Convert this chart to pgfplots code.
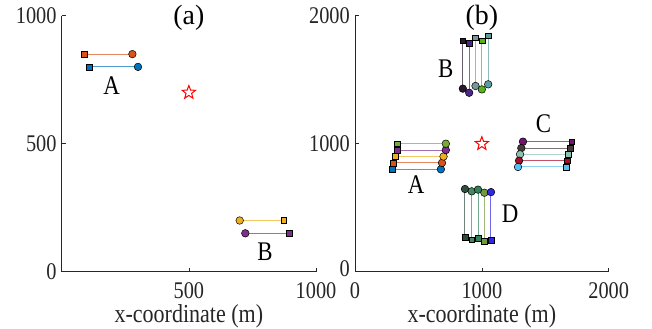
\documentclass[border=0pt]{standalone}
\usepackage{fontspec}
\setmainfont{Liberation Serif}[FakeStretch=0.85]
\newfontfamily\titlefont{Liberation Serif}
\usepackage{pgfplots}
\pgfplotsset{compat=1.18}

\definecolor{axgray}{rgb}{0.15,0.15,0.15}
\definecolor{mblue}{rgb}{0,0.447,0.741}
\definecolor{morange}{rgb}{0.85,0.325,0.098}
\definecolor{myellow}{rgb}{0.929,0.694,0.125}
\definecolor{mpurple}{rgb}{0.494,0.184,0.556}
\definecolor{mgreen}{rgb}{0.466,0.674,0.188}
\definecolor{b1}{rgb}{0.17,0.1,0.17}
\definecolor{b2}{rgb}{0.3,0.15,0.55}
\definecolor{b3}{rgb}{0.45,0.6,0.6}
\definecolor{b4}{rgb}{0.35,0.7,0.1}
\definecolor{b5}{rgb}{0.35,0.62,0.62}
\definecolor{c1}{rgb}{0.45,0.08,0.45}
\definecolor{c2}{rgb}{0.27,0.23,0.23}
\definecolor{c3}{rgb}{0.55,0.76,0.7}
\definecolor{c4}{rgb}{0.65,0.05,0.15}
\definecolor{c5}{rgb}{0.35,0.75,0.95}
\definecolor{d1}{rgb}{0.2,0.3,0.25}
\definecolor{d2}{rgb}{0.25,0.55,0.38}
\definecolor{d3}{rgb}{0.2,0.5,0.35}
\definecolor{d4}{rgb}{0.45,0.6,0.25}
\definecolor{d5}{rgb}{0.2,0.15,0.9}

\pgfdeclareplotmark{fivestar}{%
 \pgfpathmoveto{\pgfpointpolar{90}{\pgfplotmarksize}}%
 \pgfpathlineto{\pgfpointpolar{126}{0.42\pgfplotmarksize}}%
 \pgfpathlineto{\pgfpointpolar{162}{\pgfplotmarksize}}%
 \pgfpathlineto{\pgfpointpolar{198}{0.42\pgfplotmarksize}}%
 \pgfpathlineto{\pgfpointpolar{234}{\pgfplotmarksize}}%
 \pgfpathlineto{\pgfpointpolar{270}{0.42\pgfplotmarksize}}%
 \pgfpathlineto{\pgfpointpolar{306}{\pgfplotmarksize}}%
 \pgfpathlineto{\pgfpointpolar{342}{0.42\pgfplotmarksize}}%
 \pgfpathlineto{\pgfpointpolar{18}{\pgfplotmarksize}}%
 \pgfpathlineto{\pgfpointpolar{54}{0.42\pgfplotmarksize}}%
 \pgfpathclose\pgfusepathqfillstroke}

% color, square x, square y, circle x, circle y
\newcommand{\seg}[5]{%
 \addplot[#1!70!white, line width=1bp] coordinates {(#2,#3) (#4,#5)};
 \addplot[only marks, mark=square*, mark size=2.9bp, mark options={fill=#1, draw=black, line width=0.5bp}] coordinates {(#2,#3)};
 \addplot[only marks, mark=*, mark size=3.8bp, mark options={fill=#1, draw=black, line width=0.5bp}] coordinates {(#4,#5)};
}

\tikzset{lab/.style={font=\fontsize{27}{27}\selectfont, anchor=center, inner sep=0pt}}

\pgfplotsset{
  every axis title shift=0pt,
  myax/.style={
    scale only axis, height=256bp, clip=false,
    axis x line*=bottom, axis y line*=left,
    axis line style={axgray, line width=0.6bp},
    tick style={axgray, line width=0.6bp},
    tick align=inside, major tick length=4bp,
    /pgf/number format/assume math mode=true,
    /pgf/number format/1000 sep={},
    tick label style={font=\fontsize{24}{24}\selectfont, text=axgray},
    xticklabel style={inner sep=0pt, anchor=base, yshift=-26.3bp},
    yticklabel style={inner sep=0pt, anchor=east, xshift=-5bp},
    xlabel={x-coordinate (m)},
    xlabel style={font=\fontsize{26}{26}\selectfont, text=axgray, at={(rel axis cs:0.5,0)}, anchor=base, yshift=-50.3bp, inner sep=0pt},
    title style={font=\titlefont\fontsize{28}{28}\selectfont, at={(rel axis cs:0.5,1)}, anchor=center, yshift=-2bp, inner sep=0pt},
  },
}

\begin{document}
\begin{tikzpicture}
\path (0,0) rectangle (652bp,329bp);
% ---------------- (a)
\begin{axis}[myax, at={(61.7bp,57.3bp)}, anchor=south west, width=254.3bp,
  xmin=0, xmax=1000, ymin=0, ymax=1000,
  xtick={0,500,1000}, xticklabels={,500,1000},
  ytick={0,500,1000}, yticklabels={\raisebox{-9bp}{0},500,1000},
  title={(a)}]
\seg{morange}{88}{850}{278}{850}
\seg{mblue}{107}{800}{300}{800}
\seg{myellow}{873}{200}{700}{200}
\seg{mpurple}{894}{150}{722}{150}
\addplot[only marks, mark=fivestar, mark size=7bp, mark options={draw=red, fill=white, line width=1bp}] coordinates {(500,700)};
\node[lab] at (axis cs:196,728) {A};
\node[lab] at (axis cs:799,78) {B};
\end{axis}
% ---------------- (b)
\begin{axis}[myax, at={(355bp,57.3bp)}, anchor=south west, width=253.7bp,
  xmin=0, xmax=2000, ymin=0, ymax=2000,
  xtick={0,1000,2000},
  ytick={0,1000,2000}, yticklabels={\raisebox{5.7bp}{0},1000,2000},
  title={(b)}]
% group A
\seg{mblue}{292}{800}{677}{800}
\seg{morange}{304}{850}{686}{850}
\seg{myellow}{315}{900}{698}{900}
\seg{mpurple}{336}{950}{716}{950}
\seg{mgreen}{336}{1000}{716}{1000}
% group B
\seg{b1}{850}{1805}{850}{1430}
\seg{b2}{900}{1784}{900}{1398}
\seg{b3}{950}{1828}{950}{1451}
\seg{b4}{1000}{1805}{1000}{1424}
\seg{b5}{1050}{1844}{1050}{1464}
% group C
\seg{c1}{1708}{1016}{1324}{1016}
\seg{c2}{1695}{966}{1311}{966}
\seg{c3}{1684}{917}{1301}{917}
\seg{c4}{1674}{867}{1293}{867}
\seg{c5}{1666}{818}{1285}{818}
% group D
\seg{d1}{867}{268}{867}{646}
\seg{d2}{920}{250}{920}{628}
\seg{d3}{970}{263}{970}{641}
\seg{d4}{1020}{240}{1020}{617}
\seg{d5}{1072}{245}{1072}{622}
\addplot[only marks, mark=fivestar, mark size=7bp, mark options={draw=red, fill=white, line width=1bp}] coordinates {(1000,1000)};
\node[lab] at (axis cs:481,677) {A};
\node[lab] at (axis cs:715,1589) {B};
\node[lab] at (axis cs:1485,1159) {C};
\node[lab] at (axis cs:1222,456) {D};
\end{axis}
\end{tikzpicture}
\end{document}
